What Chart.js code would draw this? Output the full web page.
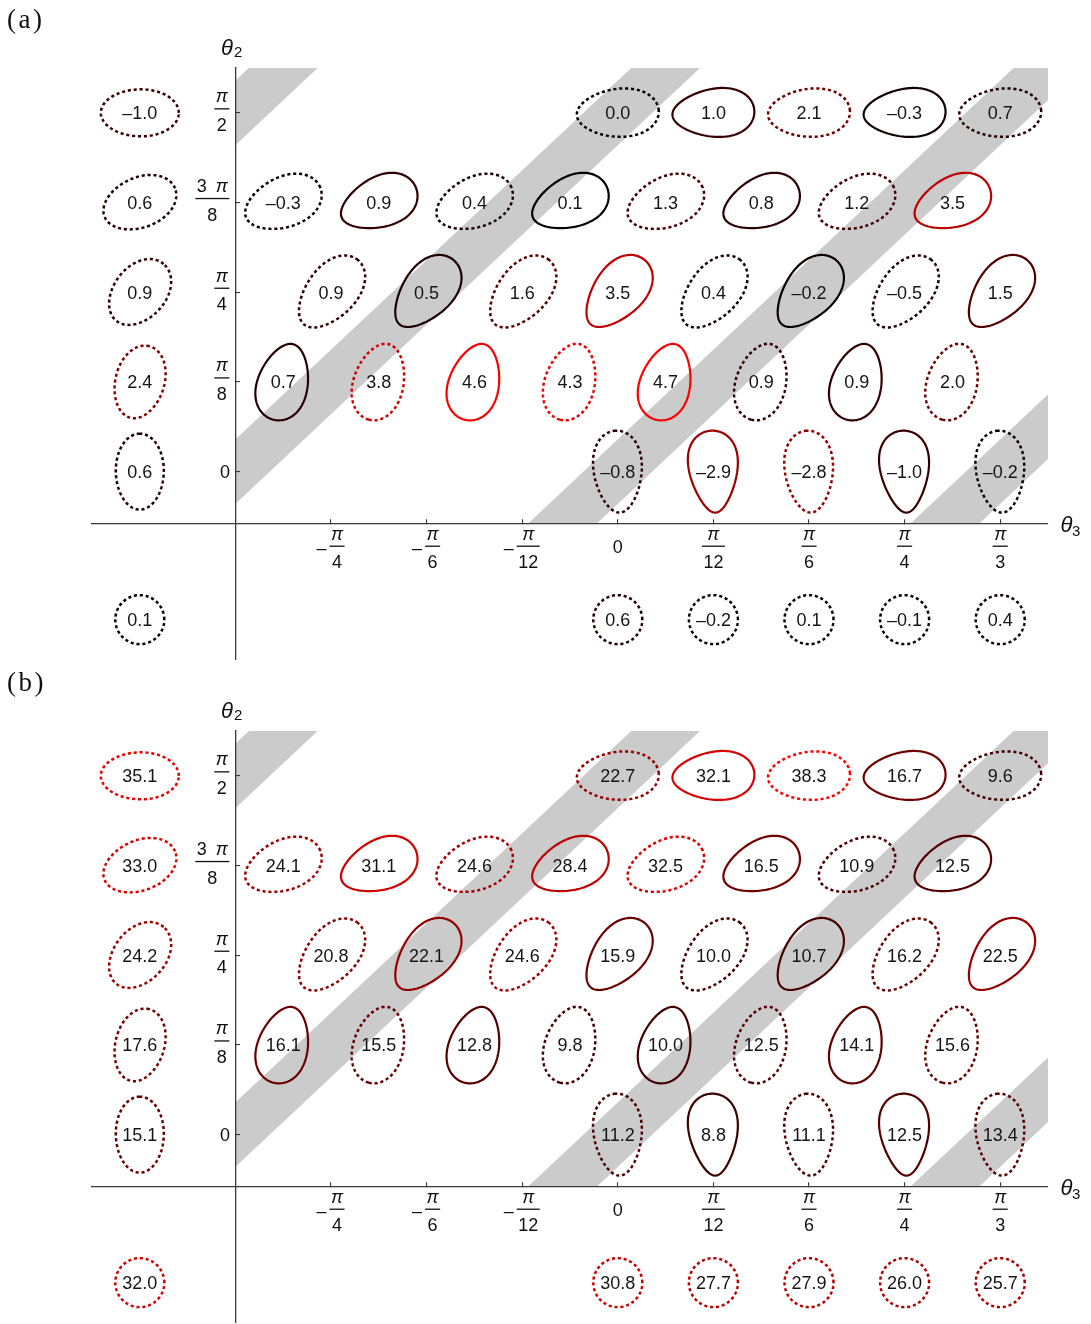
<!DOCTYPE html>
<html>
<head>
<meta charset="utf-8">
<script src="https://cdn.jsdelivr.net/npm/chart.js@4.4.1/dist/chart.umd.min.js"></script>
<style>
html,body{margin:0;padding:0;background:#fff;overflow:hidden;}
#wrap{position:relative;width:1091px;height:1324px;background:#fff;}
canvas{position:absolute;left:0;}
</style>
</head>
<body>
<div id="wrap">
<canvas id="ca" width="1091" height="663" style="top:0;width:1091px;height:663px"></canvas>
<canvas id="cb" width="1091" height="661" style="top:663px;width:1091px;height:661px"></canvas>
</div>
<script>
// ---------- axes / positions (θ3 in units of π/12, θ2 in units of π/8) ----------
const xTickValues = [-3, -2, -1, 0, 1, 2, 3, 4];
const xTickLabels = ['-π/4', '-π/6', '-π/12', '0', 'π/12', 'π/6', 'π/4', 'π/3'];
const yTickValues = [0, 1, 2, 3, 4];
const yTickLabels = ['0', 'π/8', 'π/4', '3π/8', 'π/2'];

const rowTheta2 = [4, 3, 2, 1, 0];
const theta3Row4 = [0, 1, 2, 3, 4];
const theta3Row3 = [-3.5, -2.5, -1.5, -0.5, 0.5, 1.5, 2.5, 3.5];
const theta3Row2 = [-3, -2, -1, 0, 1, 2, 3, 4];
const theta3Row1 = [-3.5, -2.5, -1.5, -0.5, 0.5, 1.5, 2.5, 3.5];
const theta3Row0 = [0, 1, 2, 3, 4];
const theta3Side = -5;
const theta3Under = [-5, 0, 1, 2, 3, 4];
const theta2Under = -1.65;
const axisCrossTheta2 = -0.575;
const axisCrossTheta3 = -4;
const bandOffsets = [8, 4, 0, -4];
const bandHalfWidth = 0.36;

// ---------- panel (a) values ----------
const aSide  = [-1.0, 0.6, 0.9, 2.4, 0.6];
const aRow4  = [0.0, 1.0, 2.1, -0.3, 0.7];
const aRow3  = [-0.3, 0.9, 0.4, 0.1, 1.3, 0.8, 1.2, 3.5];
const aRow2  = [0.9, 0.5, 1.6, 3.5, 0.4, -0.2, -0.5, 1.5];
const aRow1  = [0.7, 3.8, 4.6, 4.3, 4.7, 0.9, 0.9, 2.0];
const aRow0  = [-0.8, -2.9, -2.8, -1.0, -0.2];
const aUnder = [0.1, 0.6, -0.2, 0.1, -0.1, 0.4];

// ---------- panel (b) values ----------
const bSide  = [35.1, 33.0, 24.2, 17.6, 15.1];
const bRow4  = [22.7, 32.1, 38.3, 16.7, 9.6];
const bRow3  = [24.1, 31.1, 24.6, 28.4, 32.5, 16.5, 10.9, 12.5];
const bRow2  = [20.8, 22.1, 24.6, 15.9, 10.0, 10.7, 16.2, 22.5];
const bRow1  = [16.1, 15.5, 12.8, 9.8, 10.0, 12.5, 14.1, 15.6];
const bRow0  = [11.2, 8.8, 11.1, 12.5, 13.4];
const bUnder = [32.0, 30.8, 27.7, 27.9, 26.0, 25.7];

// ---------- styles ----------
const solidRow4 = [0, 1, 0, 1, 0];
const solidRow3 = [0, 1, 0, 1, 0, 1, 0, 1];
const solidRow2 = [0, 1, 0, 1, 0, 1, 0, 1];
const solidRow1 = [1, 0, 1, 0, 1, 0, 1, 0];
const solidRow0 = [0, 1, 0, 1, 0];
// loop shapes in pixels: a semi-axis, b semi-axis, phi (deg, direction of wide end), k egg factor
const gridShapes = {
  4: {a: 41, b: 24, phi: 3, k: 0.2},
  3: {a: 40, b: 25, phi: 22, k: 0.2},
  2: {a: 42, b: 25, phi: 50, k: 0.2},
  1: {a: 39, b: 25, phi: 255, k: 0.18},
  0: {a: 41, b: 24, phi: 93, k: 0.3}
};
const sideShapes = {
  4: {a: 39, b: 23.5, phi: 0, k: 0.04},
  3: {a: 38, b: 25, phi: 22, k: 0.06},
  2: {a: 37, b: 26, phi: 50, k: 0.06},
  1: {a: 37, b: 24.5, phi: 75, k: 0.06},
  0: {a: 38, b: 24, phi: 90, k: 0.04}
};
const underShape = {a: 24.5, b: 24.5, phi: 0, k: 0};

const FONT = '"Liberation Sans", Arial, Helvetica, sans-serif';
const LABEL_PX = 18;

function buildPoints(side, rows, under, solids) {
  const pts = [];
  const rowX = [theta3Row4, theta3Row3, theta3Row2, theta3Row1, theta3Row0];
  rowTheta2.forEach((y, r) => {
    pts.push({x: theta3Side, y: y, v: side[r], kind: 'side', row: y, solid: false});
    rowX[r].forEach((x, i) => {
      pts.push({x: x, y: y, v: rows[r][i], kind: 'grid', row: y, solid: !!solids[r][i]});
    });
  });
  theta3Under.forEach((x, i) => {
    pts.push({x: x, y: theta2Under, v: under[i], kind: 'under', row: -1, solid: false});
  });
  return pts;
}

function fmt(v) {
  const s = Math.abs(v).toFixed(1);
  return (v < 0 ? '\u2013' : '') + s;
}

function drawLoop(ctx, cx, cy, s, solid, color) {
  const phi = s.phi * Math.PI / 180, c = Math.cos(phi), sn = Math.sin(phi);
  const k = solid ? s.k : s.k * 0.6;
  ctx.beginPath();
  const N = 140;
  for (let i = 0; i <= N; i++) {
    const t = i / N * 2 * Math.PI;
    const X = s.a * Math.cos(t);
    const Y = s.b * Math.sin(t) * (1 + k * Math.cos(t));
    const sx = cx + X * c - Y * sn;
    const sy = cy - (X * sn + Y * c);
    if (i === 0) ctx.moveTo(sx, sy); else ctx.lineTo(sx, sy);
  }
  ctx.closePath();
  ctx.setLineDash(solid ? [] : [3.1, 2.8]);
  ctx.lineWidth = solid ? 2.2 : 2.5;
  ctx.lineCap = 'butt';
  ctx.lineJoin = 'round';
  ctx.strokeStyle = color;
  ctx.stroke();
  ctx.setLineDash([]);
}

function segs(text) {
  const out = [];
  for (const ch of text) {
    const it = ch === 'π';
    if (out.length && out[out.length - 1].it === it) out[out.length - 1].t += ch;
    else out.push({t: ch, it: it});
  }
  return out;
}
function tfont(it) { return (it ? 'italic ' : '') + LABEL_PX + 'px ' + FONT; }
function mixedWidth(ctx, text) {
  let w = 0;
  for (const s of segs(text)) { ctx.font = tfont(s.it); w += ctx.measureText(s.t).width; }
  return w;
}
function drawMixed(ctx, text, left, base) {
  let x = left;
  ctx.textAlign = 'left';
  for (const s of segs(text)) { ctx.font = tfont(s.it); ctx.fillText(s.t, x, base); x += ctx.measureText(s.t).width; }
}
function parseFrac(label) {
  let neg = false, s = label;
  if (s[0] === '-') { neg = true; s = s.slice(1); }
  const parts = s.split('/');
  const num = parts[0].replace(/(\d)π/, '$1\u2002π');
  return {neg: neg, num: num, den: parts[1]};
}

const loopPlugin = {
  id: 'loopPlugin',
  beforeDraw(chart) {
    const ctx = chart.ctx, xs = chart.scales.x, ys = chart.scales.y;
    const left = xs.getPixelForValue(axisCrossTheta3), right = chart.chartArea.right;
    const top = chart.chartArea.top, bottom = ys.getPixelForValue(axisCrossTheta2);
    ctx.save();
    ctx.beginPath();
    ctx.rect(left, top, right - left, bottom - top);
    ctx.clip();
    ctx.fillStyle = '#cbcbcb';
    bandOffsets.forEach(c => {
      ctx.beginPath();
      ctx.moveTo(xs.getPixelForValue(-12), ys.getPixelForValue(-12 + c + bandHalfWidth));
      ctx.lineTo(xs.getPixelForValue(12), ys.getPixelForValue(12 + c + bandHalfWidth));
      ctx.lineTo(xs.getPixelForValue(12), ys.getPixelForValue(12 + c - bandHalfWidth));
      ctx.lineTo(xs.getPixelForValue(-12), ys.getPixelForValue(-12 + c - bandHalfWidth));
      ctx.closePath();
      ctx.fill();
    });
    ctx.restore();
  },
  afterDatasetsDraw(chart) {
    const ctx = chart.ctx;
    const meta = chart.getDatasetMeta(0);
    const data = chart.data.datasets[0].data;
    const vmax = Math.max.apply(null, data.map(d => Math.abs(d.v)));
    ctx.save();
    meta.data.forEach((el, i) => {
      const d = data[i];
      const shape = d.kind === 'under' ? underShape : (d.kind === 'side' ? sideShapes[d.row] : gridShapes[d.row]);
      const r = Math.round(Math.min(1, Math.abs(d.v) / vmax) * 255);
      drawLoop(ctx, el.x, el.y, shape, d.solid, 'rgb(' + r + ',0,0)');
    });
    ctx.fillStyle = '#151515';
    ctx.font = LABEL_PX + 'px ' + FONT;
    ctx.textAlign = 'center';
    ctx.textBaseline = 'alphabetic';
    meta.data.forEach((el, i) => {
      ctx.fillText(fmt(data[i].v), el.x, el.y + 6.5);
    });
    ctx.restore();
  },
  afterDraw(chart) {
    const ctx = chart.ctx, xs = chart.scales.x, ys = chart.scales.y;
    const axisX = xs.getPixelForValue(axisCrossTheta3);
    const axisY = ys.getPixelForValue(axisCrossTheta2);
    ctx.save();
    ctx.fillStyle = '#111';
    ctx.textBaseline = 'alphabetic';
    // y tick labels
    yTickValues.forEach((v, i) => {
      const py = ys.getPixelForValue(v);
      const lab = yTickLabels[i];
      const R = axisX - 6;
      if (lab.indexOf('/') < 0) {
        ctx.font = tfont(false); ctx.textAlign = 'right';
        ctx.fillText(lab, R + 0.5, py + 6.5);
        return;
      }
      const f = parseFrac(lab);
      const nw = mixedWidth(ctx, f.num);
      ctx.font = tfont(false);
      const dw = ctx.measureText(f.den).width;
      const W = Math.max(nw, dw) + 3;
      const cx = R - W / 2, barY = py - 4;
      ctx.fillRect(R - W, barY - 0.65, W, 1.3);
      drawMixed(ctx, f.num, cx - nw / 2, barY - 6.5);
      ctx.font = tfont(false); ctx.textAlign = 'center';
      ctx.fillText(f.den, cx, barY + 22);
    });
    // x tick labels (the whole label, sign included, is centred on its tick)
    xTickValues.forEach((v, i) => {
      const px = xs.getPixelForValue(v);
      const lab = xTickLabels[i];
      const barY = axisY + 23;
      if (lab.indexOf('/') < 0) {
        ctx.font = tfont(false); ctx.textAlign = 'center';
        ctx.fillText(lab, px, axisY + 29.5);
        return;
      }
      const f = parseFrac(lab);
      const nw = mixedWidth(ctx, f.num);
      ctx.font = tfont(false);
      const dw = ctx.measureText(f.den).width;
      const W = Math.max(nw, dw) + 3;
      const mw = f.neg ? ctx.measureText('\u2013').width * 0.8 + 4 : 0;
      const left = px - (W + mw) / 2;
      const bx = left + mw, bc = bx + W / 2;
      ctx.fillRect(bx, barY - 0.65, W, 1.3);
      drawMixed(ctx, f.num, bc - nw / 2, barY - 6.5);
      ctx.font = tfont(false); ctx.textAlign = 'center';
      ctx.fillText(f.den, bc, barY + 22);
      if (f.neg) {
        ctx.textAlign = 'right';
        ctx.fillText('\u2013', bx - 3, barY + 7.5);
      }
    });
    // axis titles
    ctx.textAlign = 'left';
    ctx.font = 'italic 22px ' + FONT;
    ctx.fillText('θ', axisX - 14.5, chart.chartArea.top - 13.5);
    ctx.font = '15px ' + FONT;
    ctx.fillText('2', axisX - 1.5, chart.chartArea.top - 11);
    const rx = chart.chartArea.right;
    ctx.font = 'italic 22px ' + FONT;
    ctx.fillText('θ', rx + 12.5, axisY + 8.5);
    ctx.font = '15px ' + FONT;
    ctx.fillText('3', rx + 24, axisY + 12.5);
    // panel tag
    const tag = chart.options.plugins.loopPlugin.tag;
    ctx.font = '27px "Liberation Serif", "DejaVu Serif", serif';
    let tx = 7;
    ['(', tag, ')'].forEach(ch => {
      ctx.fillText(ch, tx, 28);
      tx += ctx.measureText(ch).width + 2.5;
    });
    ctx.restore();
  }
};

function makeChart(id, tag, pts, padBottom) {
  const axisColor = '#3a3a3a';
  return new Chart(document.getElementById(id), {
    type: 'scatter',
    data: {datasets: [{data: pts, pointRadius: 0, pointHoverRadius: 0, showLine: false}]},
    plugins: [loopPlugin],
    options: {
      responsive: false,
      animation: false,
      devicePixelRatio: 1,
      events: [],
      layout: {padding: {left: 92, right: 43, top: 68, bottom: padBottom}},
      plugins: {legend: {display: false}, tooltip: {enabled: false}, loopPlugin: {tag: tag}},
      scales: {
        x: {
          type: 'linear', min: -5.5, max: 4.5,
          position: {y: axisCrossTheta2},
          afterBuildTicks: s => { s.ticks = xTickValues.map(v => ({value: v})); },
          ticks: {display: false},
          grid: {display: true, drawOnChartArea: false, drawTicks: true, tickLength: -5, color: axisColor, tickColor: axisColor, lineWidth: 1.1},
          border: {display: true, color: axisColor, width: 1.3}
        },
        y: {
          type: 'linear', min: -2.1, max: 4.5,
          position: {x: axisCrossTheta3},
          afterBuildTicks: s => { s.ticks = yTickValues.map(v => ({value: v})); },
          ticks: {display: false},
          grid: {display: true, drawOnChartArea: false, drawTicks: true, tickLength: -5, color: axisColor, tickColor: axisColor, lineWidth: 1.1},
          border: {display: true, color: axisColor, width: 1.3}
        }
      }
    }
  });
}

const solids = [solidRow4, solidRow3, solidRow2, solidRow1, solidRow0];
makeChart('ca', 'a', buildPoints(aSide, [aRow4, aRow3, aRow2, aRow1, aRow0], aUnder, solids), 3);
makeChart('cb', 'b', buildPoints(bSide, [bRow4, bRow3, bRow2, bRow1, bRow0], bUnder, solids), 1);
</script>
</body>
</html>
